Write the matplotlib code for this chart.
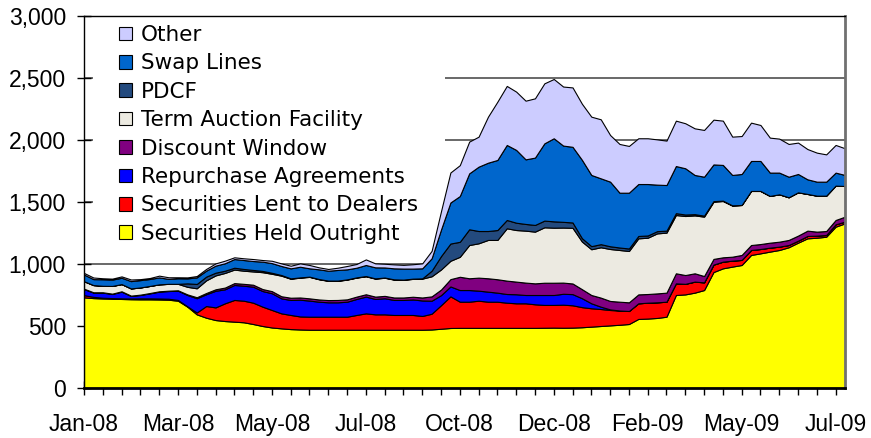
import numpy as np
import matplotlib.pyplot as plt
from matplotlib.patches import Rectangle
from matplotlib.ticker import FuncFormatter, MultipleLocator

# Weekly Fed balance sheet components, $ billions (Wednesdays from 2 Jan 2008)
weeks = np.arange(82)
x_labels = ['Jan-08', 'Mar-08', 'May-08', 'Jul-08', 'Oct-08',
            'Dec-08', 'Feb-09', 'May-09', 'Jul-09']

held_outright = [731, 725, 722, 720, 718, 716, 715, 715, 714, 712,
                 704, 656, 594, 567, 548, 540, 535, 530, 516, 500,
                 488, 481, 475, 472, 470, 470, 470, 470, 470, 470,
                 470, 470, 470, 470, 470, 470, 470, 472, 478, 484,
                 485, 485, 485, 485, 485, 485, 485, 485, 485, 486,
                 487, 486, 487, 490, 495, 500, 505, 510, 516, 557,
                 560, 565, 575, 750, 755, 769, 790, 935, 965, 979,
                 992, 1073, 1086, 1100, 1113, 1135, 1172, 1207, 1212, 1220,
                 1301, 1328]
securities_lent = [18, 10, 6, 5, 5, 6, 8, 8, 8, 8,
                   6, 3, 15, 94, 102, 143, 175, 174, 172, 156,
                   141, 121, 114, 105, 105, 105, 105, 105, 105, 119,
                   132, 124, 124, 119, 119, 119, 111, 127, 190, 255,
                   211, 211, 219, 211, 211, 203, 198, 198, 190, 184,
                   183, 186, 180, 162, 148, 137, 124, 115, 105, 126,
                   128, 126, 121, 94, 85, 89, 62, 60, 54, 48,
                   41, 40, 35, 32, 27, 18, 16, 19, 17, 14,
                   19, 14]
repos = [49, 34, 41, 33, 54, 20, 27, 40, 55, 62,
         75, 91, 115, 95, 134, 113, 121, 121, 129, 126,
         135, 121, 121, 135, 130, 121, 116, 116, 121, 129,
         135, 124, 130, 121, 121, 125, 125, 105, 81, 80,
         94, 94, 81, 81, 73, 70, 73, 67, 75, 80,
         80, 88, 90, 72, 40, 19, 5, 0, 0, 0,
         0, 0, 0, 0, 0, 0, 0, 0, 0, 0,
         0, 0, 0, 0, 0, 0, 0, 0, 0, 0,
         0, 0]
discount_window = [3, 3, 3, 3, 3, 3, 3, 3, 3, 3,
                   3, 5, 8, 10, 12, 14, 15, 15, 16, 16,
                   17, 17, 18, 18, 18, 18, 18, 19, 19, 19,
                   19, 19, 19, 20, 20, 22, 24, 35, 45, 59,
                   107, 95, 105, 108, 108, 108, 102, 100, 94, 99,
                   99, 90, 86, 73, 67, 73, 68, 71, 70, 72,
                   70, 72, 73, 81, 71, 67, 51, 46, 35, 32,
                   40, 40, 40, 40, 40, 41, 41, 43, 32, 32,
                   35, 40]
taf = [60, 58, 52, 62, 58, 58, 58, 57, 56, 55,
       52, 61, 72, 102, 112, 118, 109, 106, 107, 136,
       140, 166, 153, 160, 173, 163, 155, 154, 159, 153,
       145, 145, 146, 144, 142, 144, 152, 162, 162, 148,
       161, 268, 277, 309, 317, 422, 416, 419, 417, 447,
       444, 444, 449, 384, 369, 406, 419, 417, 414, 452,
       454, 484, 484, 470, 476, 467, 479, 461, 454, 412,
       403, 436, 428, 377, 382, 344, 349, 296, 290, 285,
       277, 247]
pdcf = [0, 0, 0, 0, 0, 0, 0, 0, 0, 0,
        0, 28, 35, 30, 22, 18, 15, 14, 12, 10,
        8, 5, 3, 2, 2, 2, 2, 2, 2, 2,
        2, 2, 2, 2, 2, 2, 2, 45, 108, 139,
        121, 127, 99, 72, 80, 67, 59, 54, 54, 54,
        51, 46, 43, 27, 25, 25, 22, 20, 20, 19,
        18, 18, 16, 15, 12, 10, 8, 5, 3, 2,
        0, 0, 0, 0, 0, 0, 0, 0, 0, 0,
        0, 0]
swap_lines = [54, 48, 53, 51, 51, 59, 59, 56, 56, 40,
              45, 40, 53, 48, 57, 60, 70, 72, 72, 75,
              78, 73, 81, 86, 67, 78, 80, 86, 81, 78,
              89, 89, 81, 89, 89, 81, 81, 100, 214, 331,
              369, 451, 519, 551, 565, 605, 587, 521, 543, 623,
              670, 615, 610, 632, 574, 531, 521, 442, 450, 419,
              415, 375, 368, 380, 373, 316, 314, 296, 288, 245,
              250, 242, 242, 188, 175, 166, 148, 118, 113, 113,
              105, 89]
other = [13, 13, 8, 8, 11, 13, 8, 8, 14, 13,
         8, 8, 11, 14, 18, 21, 14, 14, 16, 13,
         19, 21, 21, 27, 27, 16, 14, 18, 27, 30,
         45, 32, 30, 32, 30, 35, 40, 60, 148, 242,
         249, 256, 242, 371, 470, 476, 470, 473, 478, 484,
         478, 476, 479, 452, 470, 476, 376, 393, 377, 369,
         369, 365, 358, 366, 363, 376, 377, 361, 357, 309,
         306, 309, 290, 282, 274, 264, 253, 244, 234, 220,
         223, 215]

series = [held_outright, securities_lent, repos, discount_window,
          taf, pdcf, swap_lines, other]
names = ['Securities Held Outright', 'Securities Lent to Dealers',
         'Repurchase Agreements', 'Discount Window', 'Term Auction Facility',
         'PDCF', 'Swap Lines', 'Other']
colors = ['#FFFF00', '#FF0000', '#0000FF', '#800080',
          '#ECEAE1', '#234A7E', '#0066CC', '#CCCCFF']

plt.rcParams['font.family'] = ['Liberation Sans', 'DejaVu Sans']

fig = plt.figure(figsize=(8.71, 4.38), dpi=100)
ax = fig.add_axes([84 / 871, 1 - 388 / 438, 761 / 871, 372 / 438])

ax.stackplot(weeks, *series, colors=colors, labels=names,
             edgecolor='black', linewidth=0.8, zorder=2)

ax.set_xlim(0, 81)
ax.set_ylim(0, 3000)
ax.yaxis.set_major_locator(MultipleLocator(500))
ax.yaxis.set_major_formatter(FuncFormatter(lambda v, p: f'{v:,.0f}'))
ax.set_xticks(range(0, 81, 10))
ax.set_xticklabels(x_labels)
ax.set_xticks(range(0, 82, 2), minor=True)

ax.set_axisbelow(True)
ax.grid(axis='y', color='#404040', linewidth=1.1)
ax.tick_params(axis='both', which='both', direction='inout', length=10,
               width=1, labelsize=16.5, colors='black')
ax.tick_params(axis='x', which='major', pad=13)
ax.tick_params(axis='y', pad=8)

for side in ['left', 'top']:
    ax.spines[side].set_color('black')
    ax.spines[side].set_linewidth(1)
ax.spines['bottom'].set_linewidth(2)
ax.spines['right'].set_color('#707070')
ax.spines['right'].set_linewidth(2)

# white backing behind the legend hides the gridlines there
ax.add_patch(Rectangle((9 / 761, 136 / 372), 352 / 761, 1 - 136 / 372,
                       transform=ax.transAxes, facecolor='white',
                       edgecolor='none', zorder=1))

handles, labels = ax.get_legend_handles_labels()
ax.legend(handles[::-1], labels[::-1], loc='upper left',
          bbox_to_anchor=(119 / 871, 1 - 25 / 438),
          bbox_transform=fig.transFigure, frameon=False,
          prop={'family': 'DejaVu Sans', 'size': 15.5},
          handlelength=0.6, handleheight=0.6, handletextpad=0.4,
          labelspacing=0.39, borderpad=0, borderaxespad=0)

fig.savefig('out.png', dpi=100)
